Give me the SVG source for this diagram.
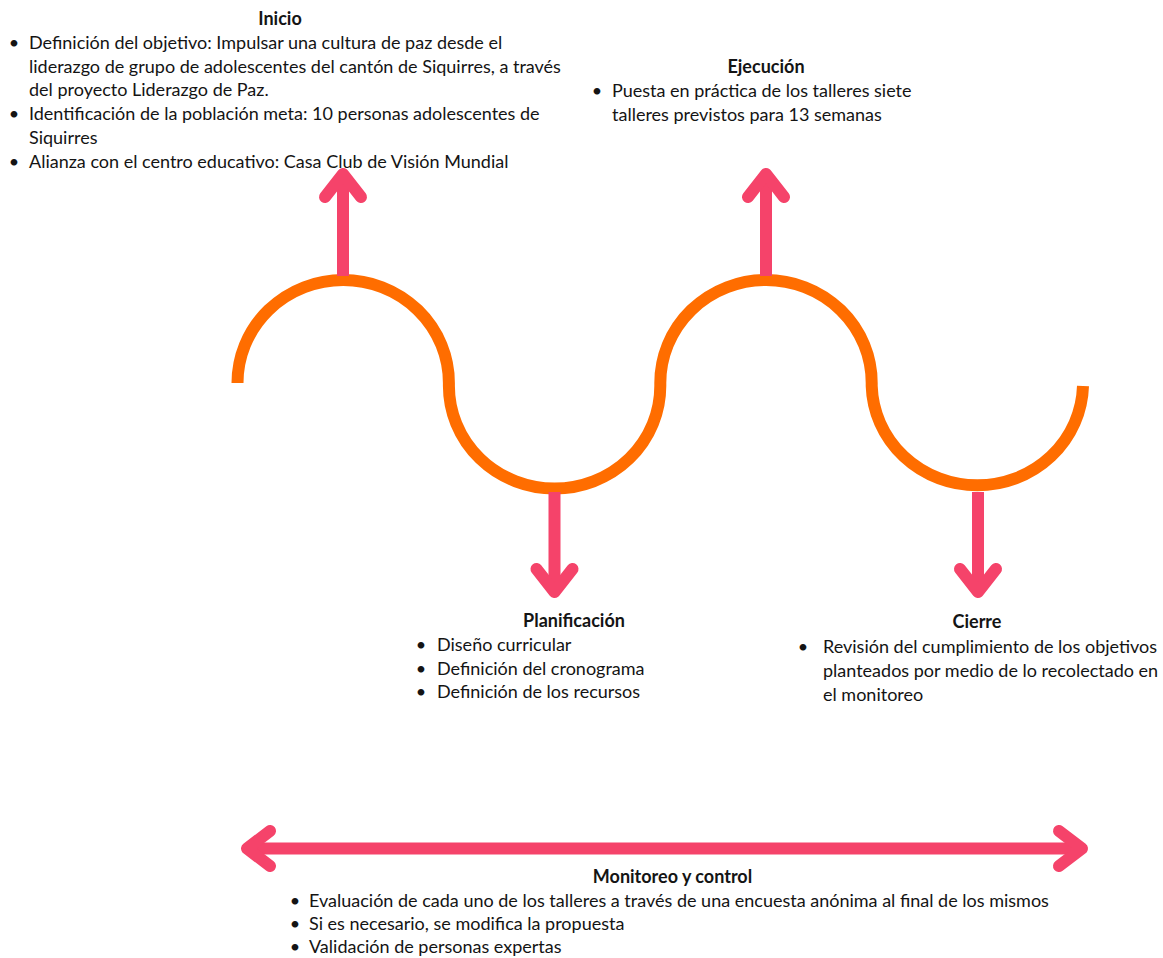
<svg xmlns="http://www.w3.org/2000/svg" width="1163" height="958" viewBox="0 0 1163 958">
<style>
text{font-family:Lato,"Noto Sans","Liberation Sans",sans-serif;font-size:18px;fill:#141414}
.t{font-weight:bold;text-anchor:middle}
.b{text-anchor:middle}
.wave{fill:none;stroke:#FF6D00;stroke-width:12}
.ar{fill:none;stroke:#F5436A;stroke-width:12;stroke-linecap:round;stroke-linejoin:round}
.sh{fill:none;stroke:#F5436A;stroke-width:12}
</style>
<rect width="1163" height="958" fill="#fff"/>
<g id="connectors">
<path class="wave" d="M237.5,383 A105.7,103 0 0 1 448.9,383 L448.9,386 A105.7,102.5 0 0 0 660.3,386 L660.3,383 A105.7,103 0 0 1 871.7,383 L871.7,386 A105.7,102.5 0 0 0 1083,386"/>
<line class="sh" x1="343" y1="276" x2="343" y2="178"/>
<polyline class="ar" points="325,197 343,174 361,197"/>
<line class="sh" x1="766" y1="276" x2="766" y2="178"/>
<polyline class="ar" points="748,197 766,174 784,197"/>
<line class="sh" x1="554.5" y1="492" x2="554.5" y2="588"/>
<polyline class="ar" points="536.5,569 554.5,592 572.5,569"/>
<line class="sh" x1="978" y1="492" x2="978" y2="588"/>
<polyline class="ar" points="960,569 978,592 996,569"/>
<line class="sh" x1="250" y1="848.5" x2="1079" y2="848.5"/>
<polyline class="ar" points="270,831 247,848.5 270,866"/>
<polyline class="ar" points="1059,831 1082,848.5 1059,866"/>
</g>
<g id="inicio">
<text class="t" x="280" y="25">Inicio</text>
<text class="b" x="14" y="49">•</text>
<text x="29" y="49">Definición del objetivo: Impulsar una cultura de paz desde el</text>
<text x="29" y="73">liderazgo de grupo de adolescentes del cantón de Siquirres, a través</text>
<text x="29" y="96">del proyecto Liderazgo de Paz.</text>
<text class="b" x="14" y="120">•</text>
<text x="29" y="120">Identificación de la población meta: 10 personas adolescentes de</text>
<text x="29" y="144">Siquirres</text>
<text class="b" x="14" y="168">•</text>
<text x="29" y="168">Alianza con el centro educativo: Casa Club de Visión Mundial</text>
</g>
<g id="ejecucion">
<text class="t" x="766" y="73">Ejecución</text>
<text class="b" x="597" y="97">•</text>
<text x="612" y="97">Puesta en práctica de los talleres siete</text>
<text x="612" y="121">talleres previstos para 13 semanas</text>
</g>
<g id="planificacion">
<text class="t" x="574" y="627">Planificación</text>
<text class="b" x="421" y="651">•</text>
<text x="437" y="651">Diseño curricular</text>
<text class="b" x="421" y="675">•</text>
<text x="437" y="675">Definición del cronograma</text>
<text class="b" x="421" y="698">•</text>
<text x="437" y="698">Definición de los recursos</text>
</g>
<g id="cierre">
<text class="t" x="977" y="628">Cierre</text>
<text class="b" x="803" y="653">•</text>
<text x="823" y="653">Revisión del cumplimiento de los objetivos</text>
<text x="823" y="677">planteados por medio de lo recolectado en</text>
<text x="823" y="701">el monitoreo</text>
</g>
<g id="monitoreo">
<text class="t" x="672.5" y="883">Monitoreo y control</text>
<text class="b" x="295" y="907">•</text>
<text x="309" y="907">Evaluación de cada uno de los talleres a través de una encuesta anónima al final de los mismos</text>
<text class="b" x="295" y="930">•</text>
<text x="309" y="930">Si es necesario, se modifica la propuesta</text>
<text class="b" x="295" y="953">•</text>
<text x="309" y="953">Validación de personas expertas</text>
</g>
</svg>
